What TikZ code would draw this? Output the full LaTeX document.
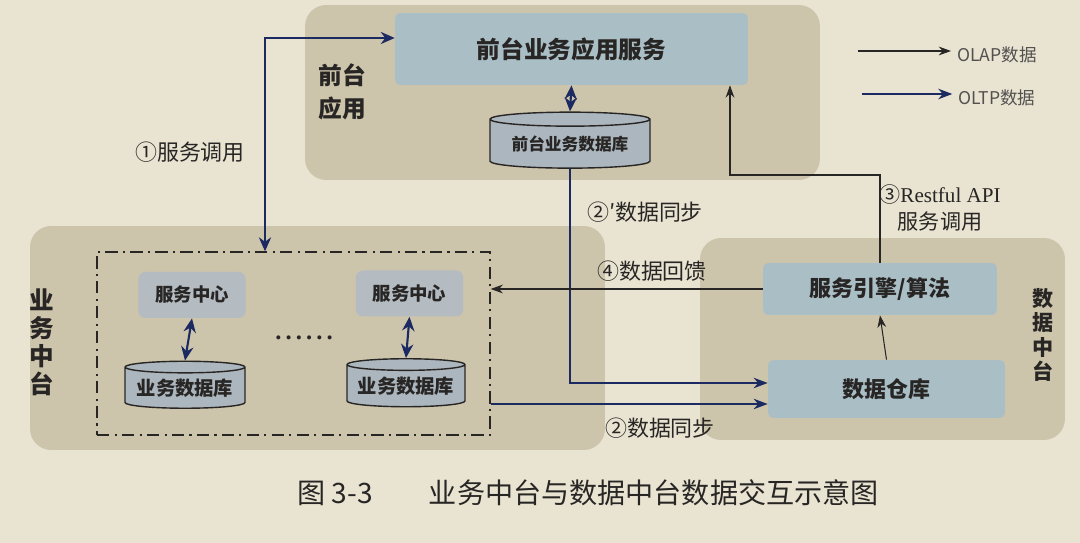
\documentclass[tikz,border=0pt]{standalone}
\usepackage{fontspec}
\setmainfont{Liberation Serif}
\newfontfamily\cjk{Noto Sans CJK SC}
\usetikzlibrary{shapes, arrows.meta, positioning, calc}
\definecolor{paper}{RGB}{233,227,210}
\definecolor{panel}{RGB}{205,196,172}
\definecolor{boxblue}{RGB}{170,190,198}
\definecolor{boxgray}{RGB}{180,188,194}
\definecolor{dbgray}{RGB}{172,182,190}
\definecolor{navy1}{RGB}{28,42,98}
\definecolor{ink}{RGB}{40,38,36}

\begin{document}
\begin{tikzpicture}[x=0.02cm, y=-0.02cm,
  area/.style={fill=panel, rounded corners=12pt, inner sep=0pt},
  svc/.style={fill=boxblue, rounded corners=3pt, inner sep=0pt, font=\cjk\bfseries, text=ink},
  center/.style={fill=boxgray, rounded corners=4pt, inner sep=0pt, font=\cjk\bfseries\fontsize{10.5}{12}\selectfont, text=ink, minimum width=2.15cm, minimum height=0.92cm},
  db/.style={cylinder, shape border rotate=90, aspect=0.12, draw=ink, thick, fill=dbgray, inner sep=0pt, font=\cjk\bfseries, text=ink},
  olap/.style={-{Stealth[length=7pt, width=5pt]}, ink, semithick},
  oltp/.style={-{Stealth[length=8pt, width=6pt]}, navy1, thick},
  both/.style={{Stealth[length=8pt, width=7pt]}-{Stealth[length=8pt, width=7pt]}, navy1, very thick},
  lbl/.style={font=\cjk\fontsize{12.5}{14}\selectfont, text=ink}
]
  \fill[paper] (0,0) rectangle (1080,543);
  \useasboundingbox (0,0) rectangle (1080,543);

  % panels
  \node[area, minimum width=10.3cm, minimum height=3.5cm] (fpanel) at (562.5,92.5) {};
  \node[area, minimum width=11.5cm, minimum height=4.48cm] (mpanel) at (317.5,338) {};
  \node[area, minimum width=7.3cm, minimum height=4.04cm] (dpanel) at (882.5,339) {};

  \node[font=\cjk\bfseries\fontsize{13.5}{19}\selectfont, text=ink, align=center] (flabel) at (342,92) {前台\\应用};
  \node[font=\cjk\bfseries\fontsize{14}{14}\selectfont, text=ink, align=center] (mlabel) at (42,342) {业\\[2pt]务\\[2pt]中\\[2pt]台};
  \node[font=\cjk\bfseries\fontsize{12}{12}\selectfont, text=ink, align=center] (dlabel) at (1043,335) {数\\[2pt]据\\[2pt]中\\[2pt]台};

  % front
  \node[svc, minimum width=7.06cm, minimum height=1.44cm, font=\cjk\bfseries\fontsize{13.5}{15}\selectfont] (front) at (571.5,49) {前台业务应用服务};
  \node[db, minimum width=3.2cm, minimum height=1.12cm, font=\cjk\bfseries\fontsize{9.5}{11}\selectfont] (fdb) at (570,144) {\raisebox{-4pt}{前台业务数据库}};
  \draw[both] (front.south) -- (fdb.north);

  % middle
  \node[draw=ink, thick, dash pattern=on 7pt off 3pt on 1.2pt off 3pt, minimum width=7.86cm, minimum height=3.66cm] (dbox) at (293.5,343.5) {};
  \node[center] (sc1) at (192,295) {服务中心};
  \node[center] (sc2) at (409.5,293.5) {服务中心};
  \node[db, minimum width=2.4cm, minimum height=0.94cm, font=\cjk\bfseries\fontsize{11}{12}\selectfont] (db1) at (185,388) {\raisebox{-4pt}{业务数据库}};
  \node[db, minimum width=2.36cm, minimum height=0.96cm, font=\cjk\bfseries\fontsize{11}{12}\selectfont] (db2) at (406,386) {\raisebox{-4pt}{业务数据库}};
  \draw[both] (sc1.south) -- (db1.north);
  \draw[both] (sc2.south) -- (db2.north);
  \node[font=\bfseries\fontsize{14}{14}\selectfont, text=ink] (dots) at (304,338) {.\,.\,.\,.\,.\,.};

  % data
  \node[svc, minimum width=4.68cm, minimum height=1.04cm, font=\cjk\bfseries\fontsize{12.5}{14}\selectfont] (eng) at (880,289) {服务引擎/算法};
  \node[svc, minimum width=4.74cm, minimum height=1.16cm, font=\cjk\bfseries\fontsize{12.5}{14}\selectfont] (wh) at (886.5,389) {数据仓库};
  \draw[olap] (wh.north) -- (eng.south);

  % flows
  \coordinate (c1) at (265,38);
  \draw[both, thick] (dbox.north -| c1) -- (c1) -- (c1 -| front.west);
  \node[lbl] (l1) at (190,152) {①服务调用};

  \coordinate (c2) at ($(wh.west)+(0,-6)$);
  \draw[oltp] (fdb.south) |- (c2);
  \node[lbl] (l2p) at (645,212) {②′数据同步};

  \coordinate (c4) at (eng.west);
  \draw[olap] (c4) -- (c4 -| dbox.east);
  \node[lbl] (l4) at (652,271) {④数据回馈};

  \coordinate (c5) at ($(wh.west)+(0,15)$);
  \draw[oltp] (c5 -| dbox.east) -- (c5);
  \node[lbl] (l2) at (660,428) {②数据同步};

  \coordinate (c3) at (730,175);
  \draw[olap] (eng.north) |- (c3) -- (c3 |- front.south);
  \node[lbl, align=center, font=\fontsize{12}{15}\selectfont] (l3) at (940,208) {{\cjk ③}Restful API\\{\cjk 服务调用}};

  % legend
  \node[font=\cjk\fontsize{10}{12}\selectfont, text=ink!80] (lolap) at (997,55) {OLAP数据};
  \node[font=\cjk\fontsize{10}{12}\selectfont, text=ink!80] (loltp) at (997,98) {OLTP数据};
  \coordinate (a1) at (858,51);
  \coordinate (a2) at (862,94);
  \draw[olap] (a1) -- (a1 -| lolap.west);
  \draw[oltp] (a2) -- (a2 -| loltp.west);

  % caption
  \node[font=\cjk\fontsize{16}{18}\selectfont, text=ink] (cap) at (588,493) {图 3-3\quad\quad 业务中台与数据中台数据交互示意图};
\end{tikzpicture}
\end{document}
